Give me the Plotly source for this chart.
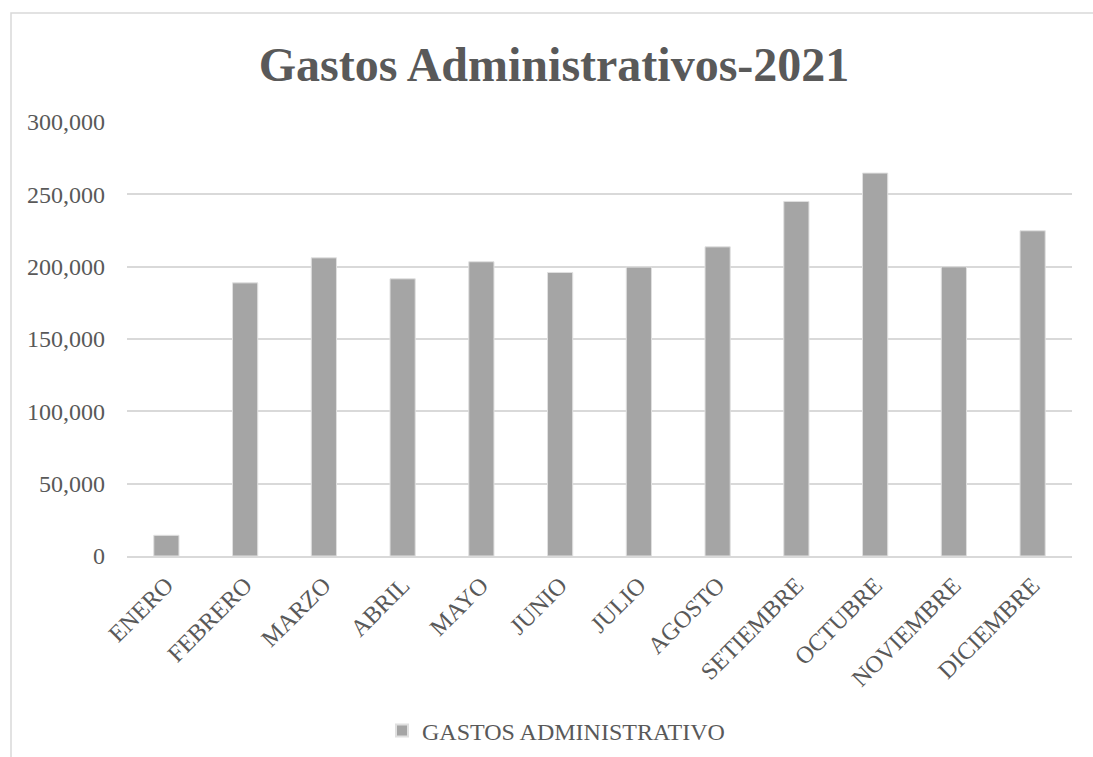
import plotly.graph_objects as go

meses = ["ENERO", "FEBRERO", "MARZO", "ABRIL", "MAYO", "JUNIO", "JULIO",
         "AGOSTO", "SETIEMBRE", "OCTUBRE", "NOVIEMBRE", "DICIEMBRE"]
gastos = [14300, 188800, 206100, 191600, 203400, 196000, 199700,
          213700, 245100, 264700, 199900, 224800]
serie = "GASTOS ADMINISTRATIVO"
titulo = "Gastos Administrativos-2021"

W, H = 1093, 757
L, R, T, B = 127, 21, 122, 201
pw = W - L - R
ph = H - T - B
SERIF = "Liberation Serif"

fig = go.Figure()
fig.add_trace(go.Bar(
    x=meses, y=gastos, name=serie,
    marker=dict(color="#a5a5a5", line=dict(color="#e0e0e0", width=1)),
))

fig.update_layout(
    width=W, height=H,
    margin=dict(l=L, r=R, t=T, b=B, autoexpand=False),
    paper_bgcolor="white", plot_bgcolor="white",
    font=dict(family=SERIF, color="#595959", size=20),
    title=dict(text=titulo, x=554 / W, xanchor="center",
               y=1 - 64 / H, yanchor="middle",
               font=dict(size=48, color="#595959", family=SERIF, weight="bold")),
    bargap=0.68,
    showlegend=True,
    legend=dict(orientation="h", x=(382 - L) / pw, xanchor="left", y=-(731 - 556) / ph,
                yanchor="middle", font=dict(size=24, color="#595959", family=SERIF),
                itemsizing="constant", itemwidth=30),
    xaxis=dict(tickangle=-45, showgrid=False, showline=True, linecolor="#d9d9d9",
               linewidth=1.5, ticks="", ticklabelstandoff=4, automargin=False,
               tickfont=dict(size=24, color="#595959", family=SERIF)),
    yaxis=dict(range=[0, 300000], dtick=50000, tickformat=",", showgrid=True,
               gridcolor="#d9d9d9", gridwidth=1.5, zeroline=False, ticks="",
               showline=False, automargin=False,
               tickfont=dict(size=24, color="#595959", family=SERIF),
               ticklabelstandoff=21),
    shapes=[dict(type="rect", xref="paper", yref="paper",
                 x0=(11 - L) / pw, x1=(W + 10 - L) / pw,
                 y0=-(H + 10 - T - ph) / ph, y1=(T + ph - 13) / ph,
                 line=dict(color="#d9d9d9", width=1.5), fillcolor="rgba(0,0,0,0)",
                 layer="below")],
)

fig.write_html("out.html", config={"displayModeBar": False},
               post_script="document.body.style.margin='0';document.body.style.padding='0';")
